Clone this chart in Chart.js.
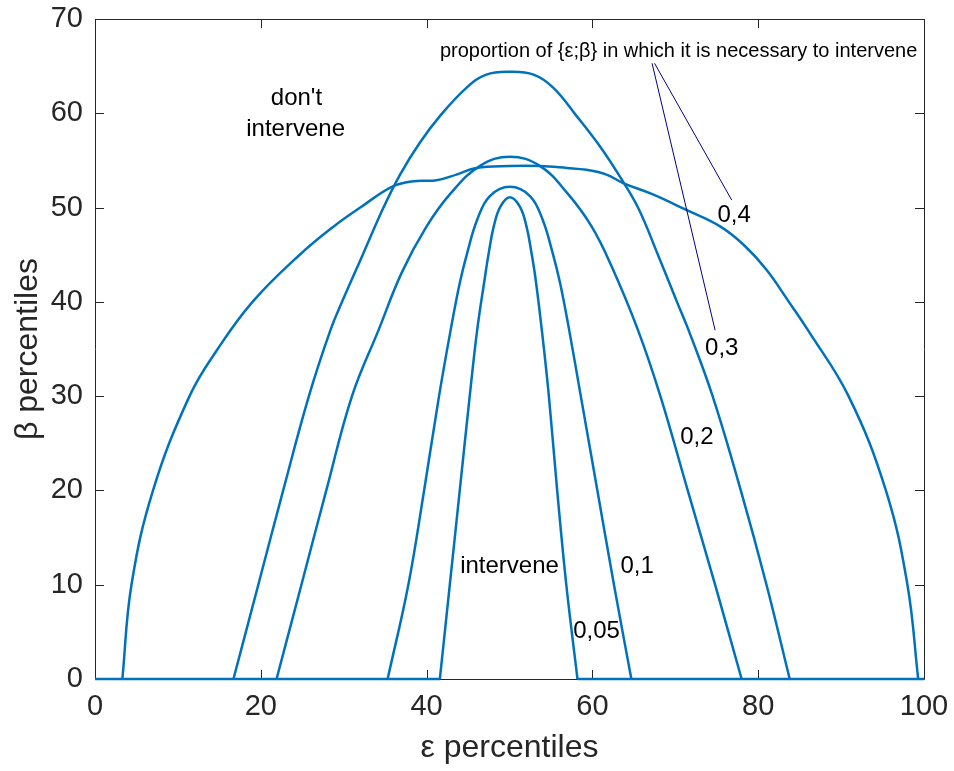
<!DOCTYPE html>
<html>
<head>
<meta charset="utf-8">
<script src="https://cdn.jsdelivr.net/npm/chart.js@4.4.1/dist/chart.umd.min.js"></script>
<style>
  html, body { margin: 0; padding: 0; background: #fff; }
  #wrap { width: 954px; height: 771px; }
</style>
</head>
<body>
<div id="wrap"><canvas id="myChart" width="954" height="771"></canvas></div>
<script>
// contour lines: share of {ε;β} where intervention is needed
const levels = ["0,05", "0,1", "0,2", "0,3", "0,4"];

// each curve as ε percentile (x) / β percentile (y)
const c005x = [41.6, 42.8, 44.0, 45.2, 46.1, 47.0, 47.5, 48.1, 48.9, 50.05, 51.25, 52.05, 52.65, 53.15, 53.9, 54.75, 55.75, 56.85, 58.2];
const c005y = [0, 10, 20, 30, 37, 42.4, 45.2, 48.0, 50.1, 51.1, 50.1, 48.0, 45.2, 42.4, 37, 30, 20, 10, 0];

const c01x = [35.3, 37.8, 39.7, 41.5, 42.9, 44.0, 44.9, 46.1, 47.6, 50.05, 52.5, 54.0, 55.2, 56.1, 57.2, 58.6, 60.6, 62.6, 64.7];
const c01y = [0, 10, 20, 30, 37, 42, 45.2, 48.7, 51.2, 52.2, 51.2, 48.7, 45.2, 42, 37, 30, 20, 10, 0];

const c02x = [21.9, 24.9, 27.9, 31.0, 34.2, 37.0, 40.0, 42.9, 46.4, 50.05, 53.7, 57.0, 59.9, 62.3, 65.5, 68.2, 71.5, 74.8, 78.0];
const c02y = [0, 10, 20, 30, 37, 43.1, 48.0, 51.5, 54.4, 55.4, 54.4, 51.5, 48.0, 43.8, 37, 30, 20, 10, 0];

const c03x = [16.7, 19.7, 22.7, 25.8, 28.4, 29.8, 32.3, 34.8, 36.8, 39.2, 41.6, 44.8, 47.2, 50.05, 52.9, 55.3, 58.1, 60.9, 63.3, 65.5, 67.9, 70.2, 71.6, 74.5, 77.9, 81.0, 83.8];
const c03y = [0, 10, 20, 30, 37, 40, 45, 50, 53.5, 56.9, 59.7, 62.7, 64.1, 64.4, 64.1, 62.7, 59.7, 56.5, 53.3, 50, 45, 40, 37, 30, 20, 10, 0];

const c04x = [3.3, 4.4, 7.0, 11.4, 14.8, 19.0, 24.7, 28.8, 32.0, 35.8, 38.4, 41.2, 43.6, 46.0, 50.05, 53.7, 56.9, 59.3, 61.7, 63.7, 67.3, 71.2, 75.4, 78.3, 81.0, 83.7, 86.0, 90.9, 95.4, 98.0, 99.3];
const c04y = [0, 10, 20, 30, 35, 40, 45, 48, 50, 52.2, 52.8, 52.9, 53.5, 54.2, 54.4, 54.4, 54.2, 54.0, 53.5, 52.6, 51.4, 49.8, 48.0, 46.0, 43.4, 40, 37, 30, 20, 10, 0];

const curvesX = [c005x, c01x, c02x, c03x, c04x];
const curvesY = [c005y, c01y, c02y, c03y, c04y];

const xMin = 0, xMax = 100, xStep = 20;
const yMin = 0, yMax = 70, yStep = 10;

// text placed on the plot, in data units
const notes = [
  { text: "don't", x: 24.3, y: 61.6, size: 24 },
  { text: "intervene", x: 24.2, y: 58.3, size: 24 },
  { text: "proportion of {ε;β} in which it is necessary to intervene", x: 70.4, y: 66.6, size: 20 },
  { text: "0,4", x: 77.1, y: 49.2, size: 24 },
  { text: "0,3", x: 75.6, y: 35.1, size: 24 },
  { text: "0,2", x: 72.6, y: 25.6, size: 24 },
  { text: "0,1", x: 65.4, y: 11.9, size: 24 },
  { text: "0,05", x: 60.5, y: 5.0, size: 24 },
  { text: "intervene", x: 50.0, y: 11.9, size: 24 }
];
// pointer lines from the caption to the 0,3 and 0,4 labels
const leaderX0 = [67.2, 67.5];
const leaderY0 = [65.3, 65.3];
const leaderX1 = [74.8, 76.8];
const leaderY1 = [37.0, 50.8];

const FONT = "'Liberation Sans', Arial, Helvetica, sans-serif";
const LINE = "#0072BD";
const AXIS = "#262626";

const datasets = curvesX.map((xs, i) => ({
  label: levels[i],
  data: xs.map((x, j) => ({ x: x, y: curvesY[i][j] })),
  showLine: true,
  borderColor: LINE,
  borderWidth: 2.5,
  pointRadius: 0,
  tension: 0.4,
  clip: false
}));

// zero line outside the innermost contour
const innerL = c005x[0], innerR = c005x[c005x.length - 1];
datasets.push({
  label: "base",
  data: [
    { x: xMin, y: 0 }, { x: innerL, y: 0 },
    { x: (innerL + innerR) / 2, y: null },
    { x: innerR, y: 0 }, { x: xMax, y: 0 }
  ],
  showLine: true,
  spanGaps: false,
  borderColor: LINE,
  borderWidth: 2.5,
  pointRadius: 0,
  tension: 0,
  clip: false
});

const frame = {
  id: "frame",
  beforeDatasetsDraw(chart) {
    const { ctx, chartArea: a, scales: { x, y } } = chart;
    ctx.save();
    ctx.strokeStyle = AXIS;
    ctx.lineWidth = 1;
    ctx.beginPath();
    ctx.rect(a.left + 0.5, a.top + 0.5, a.right - a.left, a.bottom - a.top);
    x.ticks.forEach((t) => {
      const px = Math.round(x.getPixelForValue(t.value)) + 0.5;
      ctx.moveTo(px, a.bottom); ctx.lineTo(px, a.bottom - 9);
      ctx.moveTo(px, a.top); ctx.lineTo(px, a.top + 9);
    });
    y.ticks.forEach((t) => {
      const py = Math.round(y.getPixelForValue(t.value)) + 0.5;
      ctx.moveTo(a.left, py); ctx.lineTo(a.left + 9, py);
      ctx.moveTo(a.right, py); ctx.lineTo(a.right - 9, py);
    });
    ctx.stroke();
    ctx.restore();
  },
  afterDatasetsDraw(chart) {
    const { ctx, scales: { x, y } } = chart;
    ctx.save();
    // leader lines
    ctx.strokeStyle = "#000080";
    ctx.lineWidth = 1;
    ctx.beginPath();
    leaderX0.forEach((v, i) => {
      ctx.moveTo(x.getPixelForValue(v), y.getPixelForValue(leaderY0[i]));
      ctx.lineTo(x.getPixelForValue(leaderX1[i]), y.getPixelForValue(leaderY1[i]));
    });
    ctx.stroke();
    // labels
    ctx.fillStyle = "#000";
    ctx.textAlign = "center";
    ctx.textBaseline = "middle";
    notes.forEach((n) => {
      ctx.font = n.size + "px " + FONT;
      ctx.fillText(n.text, x.getPixelForValue(n.x), y.getPixelForValue(n.y));
    });
    ctx.restore();
  }
};

// pin the plot box: no extra room for overhanging tick labels
function noOverhang(s) {
  s.paddingLeft = 0; s.paddingRight = 0; s.paddingTop = 0; s.paddingBottom = 0;
}

const canvas = document.getElementById("myChart");
new Chart(canvas.getContext("2d"), {
  type: "scatter",
  data: { datasets: datasets },
  options: {
    responsive: false,
    animation: false,
    devicePixelRatio: 1,
    layout: { padding: { left: 0, right: 30, top: 19, bottom: 0 } },
    plugins: { legend: { display: false }, tooltip: { enabled: false } },
    scales: {
      x: {
        type: "linear",
        min: xMin, max: xMax,
        grid: { display: false, drawTicks: false, tickLength: 0 },
        border: { display: false },
        ticks: { stepSize: xStep, padding: 11, color: AXIS, font: { family: FONT, size: 29 } },
        title: { display: true, text: "ε percentiles", color: AXIS, font: { family: FONT, size: 32 }, padding: { top: 0, bottom: 4 } },
        afterFit: (s) => { s.height = 92; noOverhang(s); }
      },
      y: {
        type: "linear",
        min: yMin, max: yMax,
        grid: { display: false, drawTicks: false, tickLength: 0 },
        border: { display: false },
        ticks: { stepSize: yStep, padding: 12, color: AXIS, font: { family: FONT, size: 29 } },
        title: { display: true, text: "β percentiles", color: AXIS, font: { family: FONT, size: 32 }, padding: { top: 9, bottom: 0 } },
        afterFit: (s) => { s.width = 95; noOverhang(s); }
      }
    }
  },
  plugins: [frame]
});
</script>
</body>
</html>
